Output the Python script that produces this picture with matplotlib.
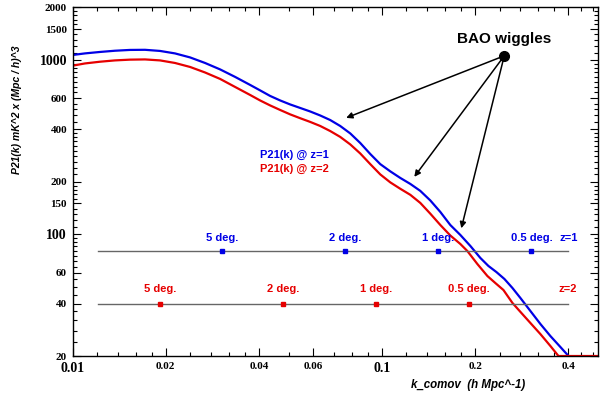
import numpy as np
import matplotlib
matplotlib.use("Agg")
import matplotlib.pyplot as plt
from matplotlib.ticker import FixedLocator, NullFormatter

# P21(k) curves
k_blue = [0.01002, 0.01096, 0.01226, 0.01370, 0.01532, 0.01714, 0.01917, 0.02143,
          0.02397, 0.02680, 0.02998, 0.03352, 0.03748, 0.04038, 0.04350, 0.04688,
          0.05050, 0.05440, 0.05861, 0.06315, 0.06803, 0.07328, 0.07897, 0.08508,
          0.09166, 0.09874, 0.1064, 0.1146, 0.1235, 0.1330, 0.1433, 0.1544,
          0.1663, 0.1792, 0.1931, 0.2080, 0.2208, 0.2344, 0.2488, 0.2641,
          0.2803, 0.3020, 0.3253, 0.3505, 0.3776, 0.4009]
p_blue = [1065, 1087, 1108, 1126, 1138, 1140, 1123, 1087,
          1031, 958, 880, 797, 717, 667, 620, 584,
          554, 529, 505, 479, 451, 417, 378, 333,
          288, 252, 229, 210, 194, 177, 156, 134,
          112.8, 98.9, 85.5, 73.0, 65.7, 60.6, 55.3, 49.1,
          43.0, 36.2, 30.5, 26.0, 22.5, 20.0]

k_red = [0.01002, 0.01096, 0.01226, 0.01370, 0.01532, 0.01714, 0.01917, 0.02143,
         0.02397, 0.02680, 0.02998, 0.03352, 0.03748, 0.04038, 0.04350, 0.04688,
         0.05050, 0.05440, 0.05861, 0.06315, 0.06803, 0.07328, 0.07897, 0.08508,
         0.09166, 0.09874, 0.1064, 0.1146, 0.1235, 0.1330, 0.1433, 0.1544,
         0.1663, 0.1792, 0.1888, 0.2034, 0.2192, 0.2326, 0.2470, 0.2641,
         0.2803, 0.3020, 0.3253, 0.3505, 0.3720, 0.5000]
p_red = [925, 952, 974, 991, 1001, 1004, 991, 958,
         909, 845, 776, 698, 628, 584, 547, 515,
         486, 462, 440, 417, 390, 361, 327, 290,
         252, 220, 198, 182, 168, 151, 131, 112.8,
         98.2, 87.8, 80.0, 67.4, 57.5, 52.4, 47.8, 40.3,
         35.8, 30.9, 26.7, 22.8, 20.0, 20.0]

# beam sizes marked on the two noise levels
deg_labels = ["5 deg.", "2 deg.", "1 deg.", "0.5 deg."]
k_deg_z1 = [0.0305, 0.0761, 0.1518, 0.3042]
k_deg_z2 = [0.0192, 0.0480, 0.0959, 0.1916]
level_z1 = 80
level_z2 = 40
level_k = [0.0121, 0.40]

# BAO annotation
bao_src = (0.2485, 1053)
bao_tips = [(0.0766, 464), (0.1272, 213), (0.1805, 108)]

x_ticks = [0.01, 0.02, 0.04, 0.06, 0.1, 0.2, 0.4]
x_labels = ["0.01", "0.02", "0.04", "0.06", "0.1", "0.2", "0.4"]
y_ticks = [20, 40, 60, 100, 150, 200, 400, 600, 1000, 1500, 2000]
y_labels = ["20", "40", "60", "100", "150", "200", "400", "600", "1000", "1500", "2000"]

blue = "#0000e6"
red = "#e60000"
sans = "Liberation Sans"
serif = "Liberation Serif"

fig = plt.figure(figsize=(6, 3.95), dpi=100)
ax = fig.add_axes([0.121, 0.0987, 0.876, 0.883])
ax.set_xscale("log")
ax.set_yscale("log")
ax.set_xlim(0.01, 0.5)
ax.set_ylim(20, 2000)

ax.plot(k_blue, p_blue, color=blue, lw=1.6)
ax.plot(k_red, p_red, color=red, lw=1.6)

ax.plot(level_k, [level_z1] * 2, color="#666666", lw=1.0)
ax.plot(level_k, [level_z2] * 2, color="#666666", lw=1.0)
ax.plot(k_deg_z1, [level_z1] * 4, "s", color=blue, ms=3.5, ls="none")
ax.plot(k_deg_z2, [level_z2] * 4, "s", color=red, ms=3.5, ls="none")

for k, lab in zip(k_deg_z1, deg_labels):
    ax.text(k, 95.4, lab, color=blue, fontsize=8, fontweight="bold",
            family=sans, ha="center", va="center")
for k, lab in zip(k_deg_z2, deg_labels):
    ax.text(k, 48.4, lab, color=red, fontsize=8, fontweight="bold",
            family=sans, ha="center", va="center")
ax.text(0.40, 95.4, "z=1", color=blue, fontsize=8, fontweight="bold",
        family=sans, ha="center", va="center")
ax.text(0.40, 48.4, "z=2", color=red, fontsize=8, fontweight="bold",
        family=sans, ha="center", va="center")

ax.text(0.0403, 284, "P21(k) @ z=1", color=blue, fontsize=8, fontweight="bold",
        family=sans, ha="left", va="center")
ax.text(0.0403, 236, "P21(k) @ z=2", color=red, fontsize=8, fontweight="bold",
        family=sans, ha="left", va="center")

ax.text(0.2485, 1316, "BAO wiggles", fontsize=11, fontweight="bold",
        family=sans, ha="center", va="center")
ax.plot([bao_src[0]], [bao_src[1]], "o", color="black", ms=7)
for tip in bao_tips:
    ax.annotate("", xy=tip, xytext=bao_src,
                arrowprops=dict(arrowstyle="-|>", color="black", lw=1.1,
                                mutation_scale=9, shrinkA=0, shrinkB=0))

# ticks
ax.xaxis.set_major_locator(FixedLocator(x_ticks))
ax.yaxis.set_major_locator(FixedLocator(y_ticks))
x_minor = np.concatenate([np.arange(0.012, 0.02, 0.002), np.arange(0.024, 0.04, 0.004),
                          np.arange(0.05, 0.1, 0.01), np.arange(0.12, 0.2, 0.02),
                          np.arange(0.24, 0.5, 0.04)])
y_minor = np.concatenate([np.arange(24, 40, 4), np.arange(45, 100, 5),
                          np.arange(110, 200, 10), np.arange(220, 400, 20),
                          np.arange(440, 600, 40), np.arange(650, 1000, 50),
                          np.arange(1100, 2000, 100)])
ax.xaxis.set_minor_locator(FixedLocator(x_minor))
ax.yaxis.set_minor_locator(FixedLocator(y_minor))
ax.xaxis.set_minor_formatter(NullFormatter())
ax.yaxis.set_minor_formatter(NullFormatter())
ax.set_xticklabels(x_labels)
ax.set_yticklabels(y_labels)
ax.tick_params(which="both", direction="in", top=True, right=True, width=0.8)
ax.tick_params(which="major", length=6, pad=4)
ax.tick_params(which="minor", length=3)

for lab in ax.get_xticklabels() + ax.get_yticklabels():
    lab.set_family(serif)
    lab.set_fontweight("bold")
    big = lab.get_text() in ("0.01", "0.1", "100", "1000")
    lab.set_fontsize(10 if big else 8)

for sp in ax.spines.values():
    sp.set_linewidth(1.0)

ax.text(0.752, -0.083, "k_comov  (h Mpc^-1)", transform=ax.transAxes, fontsize=8.3,
        fontweight="bold", style="italic", family=sans, ha="center", va="center")
ax.text(-0.106, 0.705, "P21(k) mK^2 x (Mpc / h)^3", transform=ax.transAxes,
        fontsize=7.5, fontweight="bold", style="italic", family=sans,
        ha="center", va="center", rotation=90)

fig.savefig("out.png", dpi=100)
